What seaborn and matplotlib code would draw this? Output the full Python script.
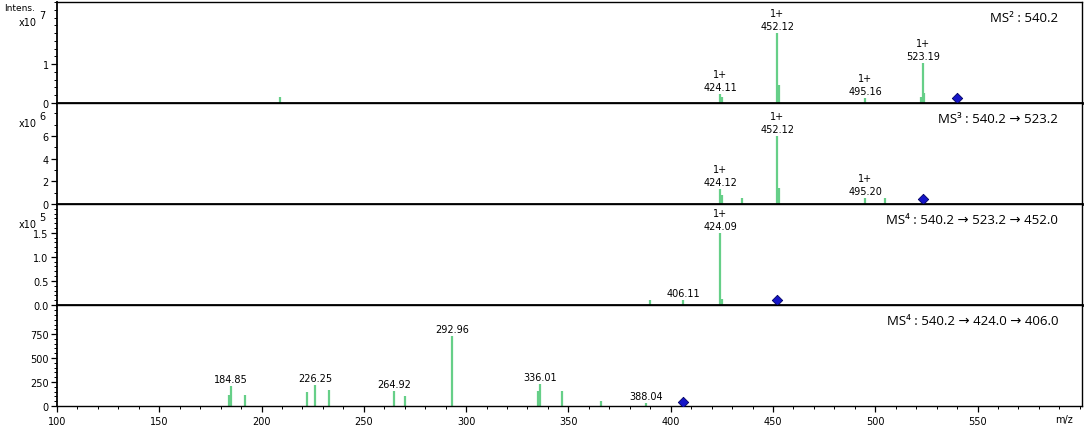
import numpy as np
import seaborn as sns
import matplotlib.pyplot as plt
from matplotlib.ticker import MultipleLocator

# MS2 : 540.2   (x10^7)
ms2_mz = [209.0, 424.11, 425.0, 452.12, 453.0, 495.16, 522.5, 523.19, 524.0]
ms2_int = [0.15, 0.24, 0.16, 1.80, 0.47, 0.13, 0.15, 1.03, 0.26]
ms2_lab = [(424.11, 0.24, "1+\n424.11"), (452.12, 1.80, "1+\n452.12"),
           (495.16, 0.13, "1+\n495.16"), (523.19, 1.03, "1+\n523.19")]

# MS3 : 540.2 -> 523.2   (x10^6)
ms3_mz = [424.12, 425.0, 435.0, 452.12, 453.0, 495.20, 505.0]
ms3_int = [1.3, 0.8, 0.5, 6.0, 1.4, 0.5, 0.55]
ms3_lab = [(424.12, 1.3, "1+\n424.12"), (452.12, 6.0, "1+\n452.12"),
           (495.20, 0.5, "1+\n495.20")]

# MS4 : 540.2 -> 523.2 -> 452.0   (x10^5)
ms4a_mz = [390.0, 406.11, 424.09, 425.0]
ms4a_int = [0.10, 0.10, 1.50, 0.12]
ms4a_lab = [(406.11, 0.10, "406.11"), (424.09, 1.50, "1+\n424.09")]

# MS4 : 540.2 -> 424.0 -> 406.0
ms4b_mz = [184.0, 184.85, 192.0, 222.0, 226.25, 233.0, 264.92, 270.0,
           292.96, 335.0, 336.01, 347.0, 366.0, 388.04]
ms4b_int = [115, 210, 115, 145, 220, 170, 160, 100, 730, 155, 230, 155, 50, 30]
ms4b_lab = [(184.85, 210, "184.85"), (226.25, 220, "226.25"), (264.92, 160, "264.92"),
            (292.96, 730, "292.96"), (336.01, 230, "336.01"), (388.04, 30, "388.04")]

titles = ["MS² : 540.2", "MS³ : 540.2 → 523.2",
          "MS⁴ : 540.2 → 523.2 → 452.0", "MS⁴ : 540.2 → 424.0 → 406.0"]
precursor_mz = [540.2, 523.2, 452.0, 406.0]
precursor_y = [0.12, 0.45, 0.10, 45]
ymax = [2.6, 8.9, 2.1, 1055]
yticks = [[0, 1], [0, 2, 4, 6], [0.0, 0.5, 1.0, 1.5], [0, 250, 500, 750]]
minor = [0.2, 1, 0.1, 50]
exponents = ["7", "6", "5", None]
ytick_fmt = ["{:.0f}", "{:.0f}", "{:.1f}", "{:.0f}"]
xticks = [100, 150, 200, 250, 300, 350, 400, 450, 500, 550]

sns.set_theme(style="ticks")
plt.rcParams['font.family'] = ['DejaVu Sans']
plt.rcParams['text.color'] = 'black'
plt.rcParams['xtick.color'] = 'black'
plt.rcParams['ytick.color'] = 'black'

green = "#66cf88"
blue = "#1515c8"

fig, axes = plt.subplots(4, 1, figsize=(10.84, 4.27), dpi=100, sharex=True)
fig.subplots_adjust(left=0.0526, right=0.998, top=0.993, bottom=0.047, hspace=0)

panels = [(ms2_mz, ms2_int, ms2_lab), (ms3_mz, ms3_int, ms3_lab),
          (ms4a_mz, ms4a_int, ms4a_lab), (ms4b_mz, ms4b_int, ms4b_lab)]

for i, (ax, (mz, inten, labs)) in enumerate(zip(axes, panels)):
    ax.vlines(mz, 0, inten, color=green, lw=1.6)
    sns.scatterplot(x=[precursor_mz[i]], y=[precursor_y[i]], marker="D", s=28,
                    color=blue, edgecolor="#000060", linewidth=0.6, ax=ax, zorder=5)
    for x, y, t in labs:
        ax.text(x, y + ymax[i] * 0.02, t, ha="center", va="bottom",
                fontsize=7, linespacing=1.35)
    ax.set_ylim(0, ymax[i])
    ax.set_xlim(100, 601)
    ax.set_yticks(yticks[i])
    ax.set_yticklabels([ytick_fmt[i].format(t) for t in yticks[i]])
    ax.yaxis.set_minor_locator(MultipleLocator(minor[i]))
    ax.tick_params(axis="y", which="major", length=4, width=0.9, labelsize=7, pad=2)
    ax.tick_params(axis="y", which="minor", length=2.5, width=0.7)
    ax.text(0.977, 0.85, titles[i], transform=ax.transAxes, ha="right", va="center",
            fontsize=9.5, family=["Open Sans", "DejaVu Sans"])
    for s in ax.spines.values():
        s.set_color("black")
        s.set_linewidth(1.0)
    ax.spines["left"].set_linewidth(1.3)
    if i < 3:
        ax.spines["bottom"].set_linewidth(2.0)
        ax.tick_params(axis="x", which="both", bottom=False)
    if exponents[i]:
        ax.text(-0.037, 0.80, "x10", transform=ax.transAxes, ha="left", va="center", fontsize=7)
        ax.text(-0.017, 0.87, exponents[i], transform=ax.transAxes, ha="left",
                va="center", fontsize=7)
    ax.set_ylabel("")

ax = axes[-1]
ax.set_xticks(xticks)
ax.set_xticklabels([str(t) for t in xticks])
ax.xaxis.set_minor_locator(MultipleLocator(10))
ax.tick_params(axis="x", which="major", length=4, width=0.9, labelsize=7, pad=3)
ax.tick_params(axis="x", which="minor", length=2.5, width=0.7)
ax.text(0.983, -0.075, "m/z", transform=ax.transAxes, ha="center", va="top", fontsize=7)
axes[0].text(-0.052, 0.99, "Intens.", transform=axes[0].transAxes, ha="left",
             va="top", fontsize=6.5)

fig.savefig("out.png", dpi=100)
